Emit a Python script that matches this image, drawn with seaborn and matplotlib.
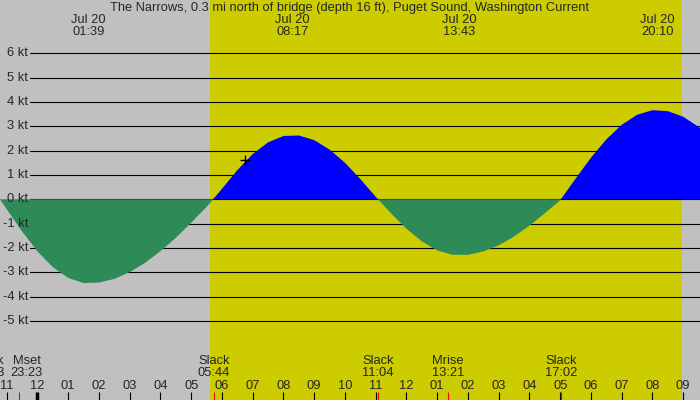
import matplotlib
matplotlib.use('Agg')
import matplotlib.pyplot as plt
import matplotlib.transforms as mtransforms
import seaborn as sns
import numpy as np

sns.set_style('white')
plt.rcParams['font.family'] = ['Liberation Sans', 'DejaVu Sans']

# hours after Jul 20 00:00, current speed in knots
hours = [-1.25, -1.0, -0.5, 0.0, 0.5, 1.0, 1.5, 2.0, 2.5, 3.0, 3.5, 4.0, 4.5, 5.0, 5.5,
         6.0, 6.5, 7.0, 7.5, 8.0, 8.5, 9.0, 9.5, 10.0, 10.5, 11.0, 11.5, 12.0, 12.5,
         13.0, 13.5, 14.0, 14.5, 15.0, 15.5, 16.0, 16.5, 17.0, 17.5, 18.0, 18.5, 19.0,
         19.5, 20.0, 20.5, 21.0, 21.5, 21.6]
speed = [0.05, -0.41, -1.32, -2.14, -2.79, -3.23, -3.44, -3.42, -3.27, -2.99, -2.61, -2.13,
         -1.58, -0.96, -0.31, 0.43, 1.20, 1.86, 2.34, 2.60, 2.62, 2.43, 2.04, 1.50, 0.83,
         0.10, -0.58, -1.21, -1.73, -2.10, -2.28, -2.28, -2.14, -1.89, -1.53, -1.08, -0.57,
         -0.04, 0.85, 1.71, 2.46, 3.06, 3.47, 3.66, 3.62, 3.39, 2.97, 2.86]

title = 'The Narrows, 0.3 mi north of bridge (depth 16 ft), Puget Sound, Washington Current'
sunrise = 5 + 37 / 60
sunset = 20 + 58 / 60
now_time, now_speed = 6.75, 1.6

# max/min current labels on top
peak_times = [1 + 39 / 60, 8 + 17 / 60, 13 + 43 / 60, 20 + 10 / 60]
peak_labels = ['01:39', '08:17', '13:43', '20:10']

# slack / moon events along the bottom
event_names = ['Slack', 'Mset', 'Slack', 'Slack', 'Mrise', 'Slack']
event_labels = ['22:43', '23:23', '05:44', '11:04', '13:21', '17:02']
event_times = [-1 - 17 / 60, -37 / 60, 5 + 44 / 60, 11 + 4 / 60, 13 + 21 / 60, 17 + 2 / 60]
label_nudge = {0: -10, 1: 8}   # pixel shifts where labels would overlap

kt_levels = list(range(-5, 7))
hour_ticks = list(range(-1, 22))

W, H = 700, 400
FS = 9.3
fig = plt.figure(figsize=(W / 100, H / 100), dpi=100)
fig.patch.set_facecolor('#c0c0c0')
ax = fig.add_axes([0, 0, 1, 1])
ax.axis('off')
ax.set_xlim(-1.2195, 21.545)
ax.set_ylim(-8.242, 8.185)

ax.axvspan(sunrise, sunset, color='#cccc00', lw=0, zorder=0)

ky = mtransforms.blended_transform_factory(ax.transAxes, ax.transData)
for v in kt_levels:
    ax.axhline(v, xmin=30 / W, xmax=1, color='black', lw=0.8, zorder=1)
    ax.text(28 / W, v, f'{v} kt', transform=ky, ha='right', va='center', fontsize=FS)

hrs = np.array(hours)
spd = np.array(speed)
ax.fill_between(hrs, spd, 0, where=spd >= 0, interpolate=True, color='#0000ff', lw=0, zorder=2)
ax.fill_between(hrs, spd, 0, where=spd <= 0, interpolate=True, color='#2e8b57', lw=0, zorder=2)

sns.scatterplot(x=[now_time], y=[now_speed], marker='+', s=60, linewidth=1, color='black',
                ax=ax, zorder=4)

bx = mtransforms.blended_transform_factory(ax.transData, ax.transAxes)
for h in hour_ticks:
    lab = '%02d' % ((h % 12) if h % 12 else 12)
    ax.text(h, 1 - 386 / H, lab, transform=bx, ha='center', va='center', fontsize=FS)
    ax.plot([h, h], [0, 8 / H], transform=bx, color='black',
            lw=2.5 if h == 0 else 0.8, solid_capstyle='butt', clip_on=False)

for i, (name, lab, t) in enumerate(zip(event_names, event_labels, event_times)):
    ax.plot([t, t], [0, 8 / H], transform=bx, color='red', lw=0.8, solid_capstyle='butt')
    off = mtransforms.offset_copy(bx, fig=fig, x=label_nudge.get(i, 0), units='dots')
    ax.text(t, 1 - 367 / H, f'{name}\n{lab}', transform=off, ha='center', va='center',
            fontsize=FS, linespacing=1.0, clip_on=False)

for t, lab in zip(peak_times, peak_labels):
    ax.text(t, 1 - 26 / H, f'Jul 20\n{lab}', transform=bx, ha='center', va='center',
            fontsize=FS, linespacing=1.0)

fig.text(0.5, 1 - 7.5 / H, title, ha='center', va='center', fontsize=FS)

fig.savefig('out.png', dpi=100, facecolor=fig.get_facecolor())
